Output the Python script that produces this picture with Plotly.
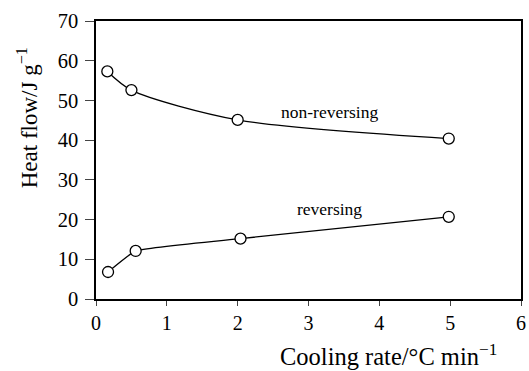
import plotly.graph_objects as go

rate_nonrev = [0.16, 0.50, 2.0, 4.98]
heat_nonrev = [57.3, 52.6, 45.1, 40.4]
rate_rev = [0.17, 0.56, 2.04, 4.98]
heat_rev = [6.8, 12.1, 15.2, 20.7]
x_ticks = [0, 1, 2, 3, 4, 5, 6]
y_ticks = [0, 10, 20, 30, 40, 50, 60, 70]

FONT = "Liberation Serif"

fig = go.Figure()
for xs, ys, sm in [(rate_nonrev, heat_nonrev, 0.8), (rate_rev, heat_rev, 0.35)]:
    fig.add_trace(go.Scatter(
        x=xs, y=ys, mode="lines+markers",
        line=dict(color="black", width=1.3, shape="spline", smoothing=sm),
        marker=dict(symbol="circle", size=11, color="white",
                    line=dict(color="black", width=1.3)),
        showlegend=False, hoverinfo="skip"))

fig.add_annotation(x=3.3, y=47.2, text="non-reversing", showarrow=False,
                   font=dict(family=FONT, size=17.5, color="black"))
fig.add_annotation(x=3.3, y=22.7, text="reversing", showarrow=False,
                   font=dict(family=FONT, size=17.5, color="black"))
fig.add_annotation(xref="paper", yref="paper", x=(504 - 96) / 430, y=-0.14,
                   xanchor="right", yanchor="top",
                   text="Cooling rate/°C min<sup>−1</sup>", showarrow=False,
                   font=dict(family=FONT, size=24.5, color="black"))
fig.add_annotation(xref="paper", yref="paper", x=(27 - 96) / 430, y=0.653,
                   xanchor="center", yanchor="middle", textangle=-90,
                   text="Heat flow/J g<sup>−1</sup>", showarrow=False,
                   font=dict(family=FONT, size=23, color="black"))

fig.update_xaxes(range=[0, 6], tickvals=x_ticks, ticks="outside", ticklen=5,
                 tickwidth=1.3, showline=True, linecolor="black", linewidth=1.5,
                 mirror=True, showgrid=False, zeroline=False,
                 tickfont=dict(family=FONT, size=20, color="black"))
fig.update_yaxes(range=[0, 70], tickvals=y_ticks, ticks="outside", ticklen=9,
                 tickwidth=1.3, showline=True, linecolor="black", linewidth=1.5,
                 mirror=True, showgrid=False, zeroline=False, ticklabelstandoff=3,
                 tickfont=dict(family=FONT, size=20.5, color="black"))

fig.update_layout(width=529, height=371, margin=dict(l=96, r=3, t=21, b=72),
                  plot_bgcolor="white", paper_bgcolor="white")
fig.write_html("out.html")
